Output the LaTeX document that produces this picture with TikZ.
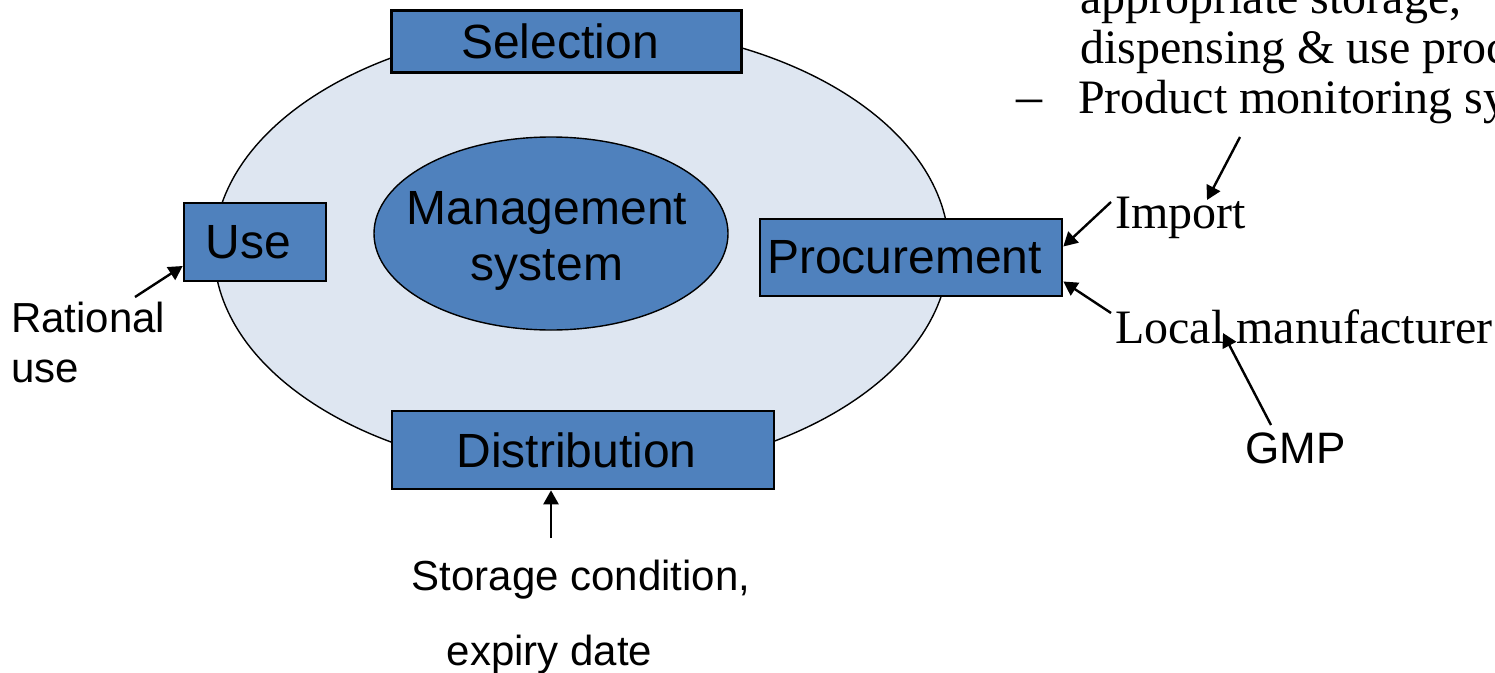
\documentclass[tikz,border=0pt]{standalone}
\usepackage{fontspec}
\setmainfont{Liberation Serif}
\newfontfamily\sansf{Liberation Sans}
\usetikzlibrary{arrows.meta,shapes.geometric}
\definecolor{boxblue}{RGB}{79,129,189}
\definecolor{ringfill}{RGB}{222,230,241}

\begin{document}
\begin{tikzpicture}[x=1pt,y=-1pt,
  box/.style={draw=black, line width=2.6pt, fill=boxblue, inner sep=0pt,
    font=\sansf\fontsize{48}{56}\selectfont},
  arr/.style={line width=2.4pt, -{Triangle[length=14pt,width=15pt]}},
  serif/.style={inner sep=0pt, font=\fontsize{48}{50}\selectfont},
  sans/.style={inner sep=0pt, font=\sansf\fontsize{42}{50}\selectfont},
]
\useasboundingbox (0,0) rectangle (1495,672);
\clip (0,0) rectangle (1495,672);

% supply-cycle ring and the management hub
\node[draw=black, line width=1.4pt, fill=ringfill, ellipse, inner sep=0pt,
      minimum width=735pt, minimum height=449pt] (ring) at (581.5,250) {};
\node[draw=black, line width=1.4pt, fill=boxblue, ellipse, inner sep=0pt,
      minimum width=354pt, minimum height=193pt] (mgmt) at (551,233.5) {};
\node[align=center, inner sep=0pt, font=\sansf\fontsize{48}{56}\selectfont]
      (mgmtlabel) at (547,241) {Management\\system};

% the four stages (labels carry a trailing space's width)
\node[box, minimum width=350pt, minimum height=62pt] (sel)  at (566.5,41.5) {Selection\kern13pt};
\node[box, minimum width=142pt, minimum height=78pt] (use)  at (255,242)    {Use\kern13pt};
\node[box, minimum width=302pt, minimum height=77pt] (proc) at (911,257.5)  {Procurement\kern13pt};
\node[box, minimum width=382pt, minimum height=78pt] (dist) at (583,450)    {Distribution\kern13pt};

% side notes
\node[sans, anchor=base west, align=left] (rational) at (11,382) {Rational\\use};
\node[sans, anchor=base] (storage) at (581,590) {Storage condition,};
\node[sans, anchor=base] (expiry)  at (549.5,665) {expiry date};
\node[inner sep=0pt, anchor=base west, font=\sansf\fontsize{44}{50}\selectfont] (gmp) at (1245,463) {GMP};
\node[serif, anchor=base west] (import) at (1115,228) {Import};
\node[serif, anchor=base west] (local)  at (1115,343) {Local manufacturer};
\node[serif, anchor=base west] (line1) at (1080,13)  {appropriate storage,};
\node[serif, anchor=base west] (line2) at (1080,63)  {dispensing \& use proc};
\node[serif, anchor=base west, font=\fontsize{52}{50}\selectfont] (dash) at (1016,113) {--};
\node[serif, anchor=base west] (line3) at (1078,113) {Product monitoring sy};

% arrow tails
\coordinate (tR) at (135,297);
\coordinate (tS) at (551,538);
\coordinate (tI) at (1111,202);
\coordinate (tL) at (1111,313);
\coordinate (tP) at (1240,137);
\coordinate (tG) at (1271,425);

% connectors
\draw[arr] (tR) -- ([yshift=-24pt]use.west);
\draw[arr] (tS) -- (tS |- dist.south);
\draw[arr] (tI) -- ([yshift=11pt]proc.east);
\draw[arr] (tL) -- ([yshift=-24pt]proc.east);
\draw[arr] (tP) -- ([xshift=92pt,yshift=28pt]import.base west);
\draw[arr] (tG) -- ([xshift=108pt,yshift=10pt]local.base west);
\end{tikzpicture}
\end{document}
